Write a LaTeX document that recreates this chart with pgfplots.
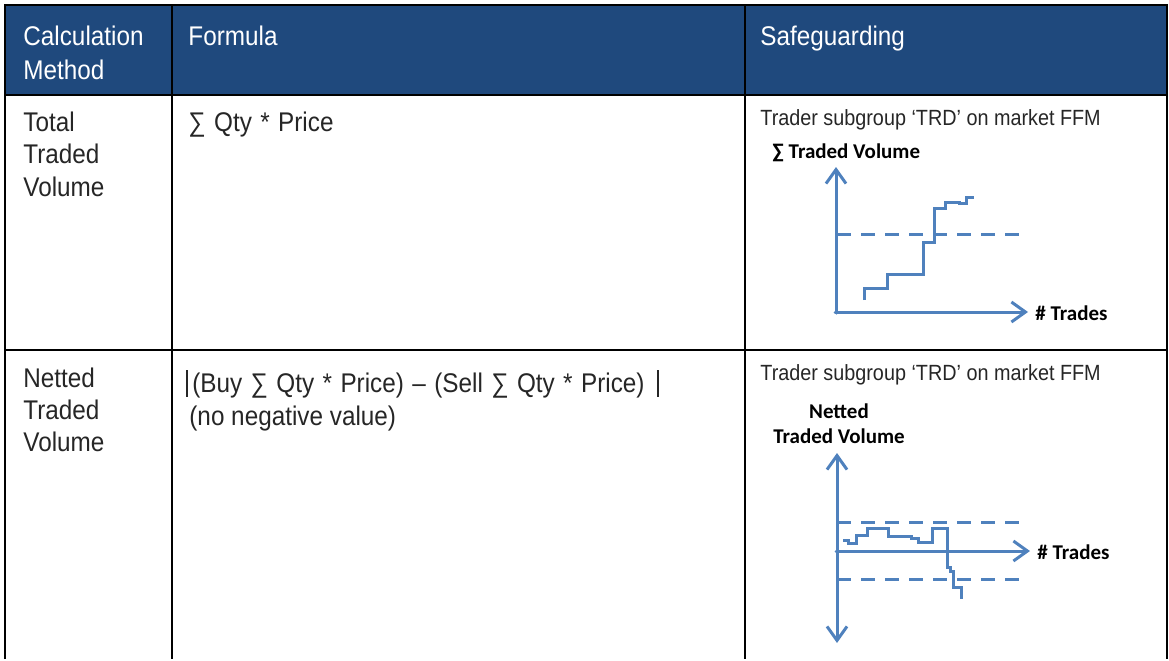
\documentclass[border=0pt]{standalone}
\usepackage{pgfplots}
\pgfplotsset{compat=1.18}
\usetikzlibrary{arrows.meta}
\usepackage{fontspec}
\setmainfont{Liberation Sans}[FakeStretch=0.9]
\newfontfamily\lab{Carlito}[BoldFont=* Bold]
\definecolor{hdr}{RGB}{31,73,125}
\definecolor{ln}{RGB}{79,129,189}
\definecolor{txt}{RGB}{38,38,38}
\newcommand{\widesp}{\spaceskip=4.2pt plus 1pt\relax}
\begin{document}
\begin{tikzpicture}
\begin{axis}[scale only axis, width=584.5pt, height=329.5pt,
  xmin=0, xmax=1169, ymin=0, ymax=659, y dir=reverse,
  hide axis, clip=false]
% bounding box
\path (axis cs:0,0) rectangle (axis cs:1169,659);
% header fill
\fill[hdr] (axis cs:5,5) rectangle (axis cs:1167,95);
% grid lines
\draw[black, line width=1pt] (axis cs:5,659) -- (axis cs:5,5) -- (axis cs:1167,5) -- (axis cs:1167,659);
\draw[black, line width=1pt] (axis cs:5,95) -- (axis cs:1167,95);
\draw[black, line width=1pt] (axis cs:5,350) -- (axis cs:1167,350);
\draw[black, line width=1pt] (axis cs:172,5) -- (axis cs:172,659);
\draw[black, line width=1pt] (axis cs:745,5) -- (axis cs:745,659);
% header text
\begin{scope}[every node/.style={anchor=base west, inner sep=0pt, text=white, font=\fontsize{13.5}{16}\selectfont}]
\node at (axis cs:23,45) {Calculation};
\node at (axis cs:23,79) {Method};
\node at (axis cs:188,45) {Formula};
\node at (axis cs:760,45) {Safeguarding};
\end{scope}
% body text
\begin{scope}[every node/.style={anchor=base west, inner sep=0pt, text=txt, font=\fontsize{13.5}{16}\selectfont}]
\node at (axis cs:23,131) {Total};
\node at (axis cs:23,163) {Traded};
\node at (axis cs:23,196) {Volume};
\node at (axis cs:188,131) {\widesp ∑ Qty * Price};
\node at (axis cs:23,387) {Netted};
\node at (axis cs:23,419) {Traded};
\node at (axis cs:23,451) {Volume};
\node at (axis cs:192,392) {\widesp (Buy ∑ Qty * Price) – (Sell ∑ Qty * Price)};
\node at (axis cs:189,425) {(no negative value)};
\end{scope}
\draw[txt, line width=0.7pt] (axis cs:187,370) -- (axis cs:187,397);
\draw[txt, line width=0.7pt] (axis cs:658,370) -- (axis cs:658,397);
\begin{scope}[every node/.style={anchor=base west, inner sep=0pt, text=txt, font=\fontsize{11}{13}\selectfont}]
\node at (axis cs:760,125) {Trader subgroup ‘TRD’ on market FFM};
\node at (axis cs:760,380) {Trader subgroup ‘TRD’ on market FFM};
\end{scope}
\begin{scope}[every node/.style={inner sep=0pt, text=black, font=\lab\bfseries\fontsize{10.5}{12}\selectfont}]
\node[anchor=base west] at (axis cs:772,158) {∑ Traded Volume};
\node[anchor=west] at (axis cs:1035,313) {\# Trades};
\node[anchor=base] at (axis cs:839,418) {Netted};
\node[anchor=base west] at (axis cs:773,443) {Traded Volume};
\node[anchor=west] at (axis cs:1037,552) {\# Trades};
\end{scope}
% chart 1 axes
\draw[ln, line width=1.5pt, -{Straight Barb[length=7pt,width=10pt]}, line cap=round] (axis cs:836,313) -- (axis cs:836,167);
\draw[ln, line width=1.5pt, -{Straight Barb[length=7pt,width=10pt]}, line cap=round] (axis cs:835,312) -- (axis cs:1028,312);
\addplot[ln, line width=1.5pt, dash pattern=on 7pt off 5pt] coordinates {(837,234) (1025,234)};
\addplot[ln, line width=1.5pt] coordinates {
(864,300) (864,288) (887,288) (887,274) (923,274) (923,242) (934,242) (934,208)
(945,208) (945,202) (959,202) (959,203) (966,203) (966,197) (974,197)};
% chart 2 axes
\draw[ln, line width=1.5pt, {Straight Barb[length=7pt,width=10pt]}-{Straight Barb[length=7pt,width=10pt]}, line cap=round] (axis cs:837,643) -- (axis cs:837,453);
\draw[ln, line width=1.5pt, -{Straight Barb[length=7pt,width=10pt]}, line cap=round] (axis cs:836,551) -- (axis cs:1030,551);
\addplot[ln, line width=1.5pt, dash pattern=on 7pt off 5pt] coordinates {(837,522) (1025,522)};
\addplot[ln, line width=1.5pt, dash pattern=on 7pt off 5pt] coordinates {(837,579) (1025,579)};
\addplot[ln, line width=1.5pt] coordinates {
(843,540) (848,540) (848,543) (856,543) (856,535) (867,535) (867,528) (888,528)
(888,536) (911,536) (911,538) (918,538) (918,542) (932,542) (932,528) (947,528)
(947,567) (950,567) (950,571) (953,571) (953,587) (961,587) (961,599)};
\end{axis}
\end{tikzpicture}
\end{document}
